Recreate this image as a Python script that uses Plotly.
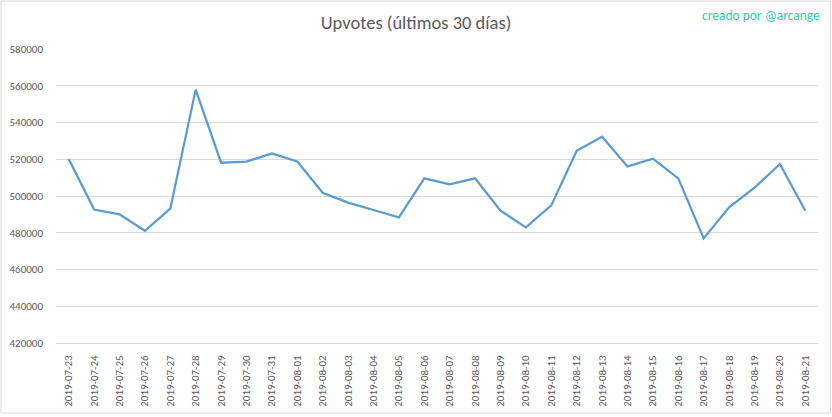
import plotly.graph_objects as go

dates = ["2019-07-23", "2019-07-24", "2019-07-25", "2019-07-26", "2019-07-27",
         "2019-07-28", "2019-07-29", "2019-07-30", "2019-07-31", "2019-08-01",
         "2019-08-02", "2019-08-03", "2019-08-04", "2019-08-05", "2019-08-06",
         "2019-08-07", "2019-08-08", "2019-08-09", "2019-08-10", "2019-08-11",
         "2019-08-12", "2019-08-13", "2019-08-14", "2019-08-15", "2019-08-16",
         "2019-08-17", "2019-08-18", "2019-08-19", "2019-08-20", "2019-08-21"]
upvotes = [520100, 492600, 490000, 481100, 493100,
           557900, 518100, 518700, 523200, 518800,
           501800, 496400, 492400, 488400, 509600,
           506300, 509600, 492000, 482900, 494900,
           524600, 532300, 516100, 520300, 509600,
           476900, 493800, 504500, 517400, 492000]
y_ticks = [420000, 440000, 460000, 480000, 500000, 520000, 540000, 560000, 580000]

title_text = "Upvotes (últimos 30 días)"
credit_text = "creado por @arcange"

FONT = "Carlito, Lato, 'Open Sans', sans-serif"

fig = go.Figure()
fig.add_trace(go.Scatter(
    x=dates, y=upvotes, mode="lines",
    line=dict(color="#5B9BD5", width=2.25),
    hoverinfo="x+y",
))

L, R, T, B = 56, 832 - 818, 49, 417 - 343
W, H = 832, 417
pw, ph = W - L - R, H - T - B

def px_x(x):
    return (x - L) / pw

def px_y(y):
    return (H - B - y) / ph

fig.update_layout(
    width=W, height=H,
    margin=dict(l=L, r=R, t=T, b=B, pad=0, autoexpand=False),
    paper_bgcolor="white", plot_bgcolor="white",
    showlegend=False,
    font=dict(family=FONT, color="#595959", size=11),
    title=dict(text=title_text, x=0.5, xanchor="center", y=1 - 23 / H, yanchor="middle",
               font=dict(family=FONT, size=18.5, color="#595959", weight=300)),
    xaxis=dict(
        type="category", tickangle=-90, range=[-0.5, len(dates) - 0.5],
        showgrid=False, showline=True, linecolor="#D9D9D9", linewidth=1,
        ticks="", tickfont=dict(size=11, color="#595959"), ticklabelstandoff=7,
        zeroline=False, automargin=False,
    ),
    yaxis=dict(
        range=[420000, 580000], tickvals=y_ticks, ticktext=[str(v) for v in y_ticks],
        showgrid=True, gridcolor="#D9D9D9", gridwidth=1,
        zeroline=False, showline=False, ticks="", ticklabelstandoff=12,
        tickfont=dict(size=11, color="#595959"), automargin=False,
    ),
    annotations=[dict(
        text=credit_text, xref="paper", yref="paper",
        x=px_x(822), y=px_y(15), xanchor="right", yanchor="middle",
        showarrow=False, font=dict(family=FONT, size=13.5, color="#33CCA6"),
    )],
    shapes=[dict(
        type="rect", xref="paper", yref="paper", layer="below",
        x0=px_x(1), x1=px_x(830.5), y0=px_y(413), y1=px_y(1),
        line=dict(color="#D9D9D9", width=1), fillcolor="rgba(0,0,0,0)",
    )],
)

fig.write_html(
    "out.html",
    config={"displayModeBar": False},
    post_script="document.body.style.margin='0';document.body.style.padding='0';"
                "document.body.style.overflow='hidden';",
)
